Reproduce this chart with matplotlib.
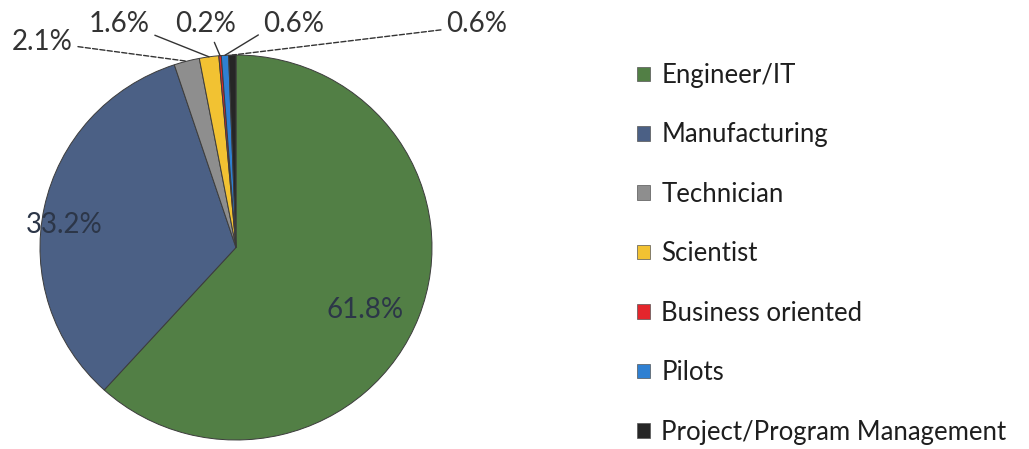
import matplotlib
matplotlib.use("Agg")
import matplotlib.pyplot as plt
import numpy as np
from matplotlib.patches import Patch

categories = ["Engineer/IT", "Manufacturing", "Technician", "Scientist",
              "Business oriented", "Pilots", "Project/Program Management"]
values = [61.8, 33.2, 2.1, 1.6, 0.2, 0.6, 0.6]
labels = ["61.8%", "33.2%", "2.1%", "1.6%", "0.2%", "0.6%", "0.6%"]
colors = ["#527f45", "#4b6085", "#8e8e8e", "#f2c232", "#e4262c", "#2f80d2", "#262626"]

plt.rcParams['font.family'] = ['Lato', 'DejaVu Sans']
W, H = 1029, 449
fig = plt.figure(figsize=(W / 100, H / 100), dpi=100)
fig.patch.set_facecolor("white")

# pie box in pixels: x 40..432, y 55..440 (image coords)
ax = fig.add_axes([40 / W, (H - 440) / H, 392 / W, 385 / H])
wedges, _ = ax.pie(values, colors=colors, startangle=90, counterclock=False,
                   radius=1.0, wedgeprops=dict(edgecolor="#3c3c3c", linewidth=0.7))
ax.set_aspect("auto")
ax.set_xlim(-1, 1)
ax.set_ylim(-1, 1)

def mid_point(w, r=1.0):
    a = np.deg2rad((w.theta1 + w.theta2) / 2)
    return r * np.cos(a), r * np.sin(a)

# inside labels
for i, (x, y) in [(0, (0.658, -0.325)), (1, (-0.878, 0.117))]:
    ax.text(x, y, labels[i], ha="center", va="center", fontsize=20, color="#2c3648")

# outside labels (figure pixel positions) with leader lines
out = [
    (2, (42, 407), (1.0, 0.35), "--"),
    (3, (119, 425), (1.0, 0.15), "-"),
    (4, (206, 425), (0.6, 0.0), "-"),
    (5, (294, 425), (0.0, 0.2), "-"),
    (6, (477, 425), (0.0, 0.3), "--"),
]
for i, pos, rel, ls in out:
    x, y = mid_point(wedges[i], 1.0)
    ax.annotate(labels[i], xy=(x, y), xycoords="data",
                xytext=pos, textcoords="figure pixels",
                ha="center", va="center", fontsize=20, color="#333333",
                arrowprops=dict(arrowstyle="-", color="#333333", lw=1.0,
                                linestyle=ls, relpos=rel,
                                shrinkA=2, shrinkB=0),
                annotation_clip=False)

handles = [Patch(facecolor=c, edgecolor="#555555", linewidth=0.5) for c in colors]
fig.legend(handles, categories, loc="upper left",
           bbox_to_anchor=(637 / W, (H - 63) / H), frameon=False,
           fontsize=18.5, handlelength=0.5, handleheight=0.5, handletextpad=0.45,
           labelspacing=1.34, borderaxespad=0, borderpad=0, labelcolor="#1e1e1e")

fig.savefig("out.png", dpi=100, facecolor="white")
